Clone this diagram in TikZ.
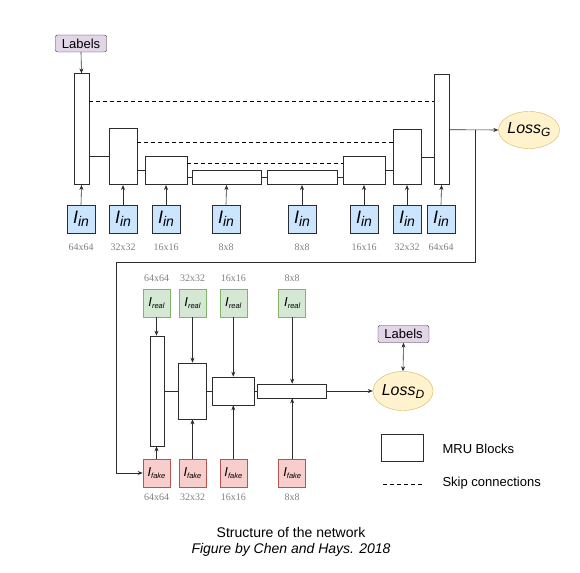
\documentclass[tikz,border=0pt]{standalone}
\usepackage{fontspec}
\setmainfont{Liberation Serif}
\setsansfont{Liberation Sans}
\usepackage{tikz}
\usetikzlibrary{arrows.meta, positioning, calc, shapes.geometric}

\definecolor{inblue}{HTML}{CCE5FF}
\definecolor{realgreen}{HTML}{D5E8D4}
\definecolor{realedge}{HTML}{82B366}
\definecolor{fakered}{HTML}{F8CECC}
\definecolor{fakeedge}{HTML}{B85450}
\definecolor{lblfill}{HTML}{E1D5E7}
\definecolor{lossfill}{HTML}{FFF2CC}
\definecolor{lossedge}{HTML}{D6B656}
\definecolor{edge}{HTML}{2A2C2F}

\newcommand{\Iin}{{\fontsize{18}{18}\selectfont\itshape I\raisebox{-3pt}{\fontsize{14}{14}\selectfont in}}}
\newcommand{\Ireal}{{\fontsize{13}{13}\selectfont\itshape I\raisebox{-2pt}{\fontsize{7.5}{7.5}\selectfont real}}}
\newcommand{\Ifake}{{\fontsize{13}{13}\selectfont\itshape I\raisebox{-2pt}{\fontsize{7.5}{7.5}\selectfont fake}}}

\begin{document}
\begin{tikzpicture}[
    x=1pt, y=-1pt,
    >={Stealth[length=5pt, width=4pt]},
    font=\sffamily,
    mru/.style={draw=edge, fill=white, semithick, inner sep=0pt, anchor=south},
    inbox/.style={draw=edge, fill=inblue, semithick, minimum width=28pt, minimum height=28pt, inner sep=0pt},
    realbox/.style={draw=realedge, fill=realgreen, semithick, minimum width=27pt, minimum height=28pt, inner sep=0pt},
    fakebox/.style={draw=fakeedge, fill=fakered, semithick, minimum width=27pt, minimum height=28pt, inner sep=0pt},
    lbl/.style={draw=edge, fill=lblfill, rounded corners=2pt, minimum width=51pt, minimum height=17pt, inner sep=0pt, font=\sffamily\fontsize{13}{13}\selectfont},
    loss/.style={ellipse, draw=lossedge, fill=lossfill, minimum width=54pt, minimum height=37pt, inner sep=0pt},
    dimtxt/.style={text=gray, font=\rmfamily\fontsize{10}{10}\selectfont},
    txt/.style={font=\sffamily\fontsize{13}{13}\selectfont},
    skip/.style={dashed, dash pattern=on 4pt off 3pt, thick},
    conn/.style={draw=edge, semithick},
    arr/.style={->, draw=edge, semithick}
]
\useasboundingbox (0,0) rectangle (580,572);

% generator
\node[lbl] (lblG) at (81,43.5) {Labels};

\node[mru, minimum width=15pt, minimum height=111pt] (g1) at (81.5,185) {};
\node[mru, minimum width=28pt, minimum height=56pt] (g2) at (123,185) {};
\node[mru, minimum width=42pt, minimum height=28pt] (g3) at (166,185) {};
\node[mru, minimum width=69pt, minimum height=14pt] (g4) at (226.5,185) {};
\node[mru, minimum width=70pt, minimum height=14pt] (g5) at (302,185) {};
\node[mru, minimum width=42pt, minimum height=28pt] (g6) at (364,185) {};
\node[mru, minimum width=28pt, minimum height=55pt] (g7) at (407,185) {};
\node[mru, minimum width=15pt, minimum height=110pt] (g8) at (441.5,185) {};

\foreach \i/\x/\s in {1/81/64x64, 2/123/32x32, 3/166/16x16, 4/226/8x8, 5/302/8x8, 6/364/16x16, 7/407/32x32, 8/441/64x64} {
    \node[inbox] (in\i) at (\x,219) {\Iin};
    \node[dimtxt] (sz\i) at (\x,247) {\s};
    \draw[arr] (in\i.north) -- (g\i.south);
}

\draw[arr] (lblG.south) -- (g1.north);

\draw[conn] (g2.west -| g1.east) -- (g2.west);
\draw[conn] (g3.west -| g2.east) -- (g3.west);
\draw[conn] (g4.west -| g3.east) -- (g4.west);
\draw[conn] (g4.east) -- (g5.west);
\draw[conn] (g5.east) -- (g6.west |- g5.east);
\draw[conn] (g6.east) -- (g7.west |- g6.east);
\draw[conn] (g7.east) -- (g8.west |- g7.east);

% skip connections, a quarter down from the block top
\coordinate (sk1) at ($(g1.north east)!.25!(g1.south east)$);
\coordinate (sk2) at ($(g2.north east)!.25!(g2.south east)$);
\coordinate (sk3) at ($(g3.north east)!.25!(g3.south east)$);
\draw[skip] (sk1) -- (sk1 -| g8.west);
\draw[skip] (sk2) -- (sk2 -| g7.west);
\draw[skip] (sk3) -- (sk3 -| g6.west);

\node[loss] (lossG) at (529,130) {\fontsize{16}{16}\selectfont\itshape Loss\raisebox{-3pt}{\fontsize{12}{12}\selectfont G}};
\draw[arr] (g8.east) -- (lossG.west);

% discriminator
\node[mru, minimum width=14pt, minimum height=110pt, anchor=center] (d1) at (157,391) {};
\node[mru, minimum width=28pt, minimum height=56pt, anchor=center] (d2) at (192,391) {};
\node[mru, minimum width=42pt, minimum height=28pt, anchor=center] (d3) at (233.5,391) {};
\node[mru, minimum width=69pt, minimum height=14pt, anchor=center] (d4) at (292,391) {};

\foreach \i/\x/\s in {1/156.5/64x64, 2/192.5/32x32, 3/233.3/16x16, 4/292.2/8x8} {
    \node[realbox] (r\i) at (\x,303) {\Ireal};
    \node[fakebox] (f\i) at (\x,473) {\Ifake};
    \node[dimtxt] (rs\i) at (\x,278) {\s};
    \node[dimtxt] (fs\i) at (\x,497.5) {\s};
    \draw[arr] (r\i.south) -- (r\i.south |- d\i.north);
    \draw[arr] (f\i.north) -- (f\i.north |- d\i.south);
}

\draw[conn] (d1.east) -- (d2.west);
\draw[conn] (d2.east) -- (d3.west);
\draw[conn] (d3.east) -- (d4.west);

\node[loss, minimum height=39pt] (lossD) at (403,391) {\fontsize{16}{16}\selectfont\itshape Loss\raisebox{-3pt}{\fontsize{12}{12}\selectfont D}};
\node[lbl] (lblD) at (403.5,334) {Labels};
\draw[arr] (d4.east) -- (lossD.west);
\draw[<->, draw=edge, semithick] (lblD.south) -- (lossD.north);

% fake images go back to D
\coordinate (br) at (475,130);
\coordinate (ret) at (116,262);
\draw[arr] (br) |- (ret) |- (f1.west);

% legend
\node[draw=edge, semithick, minimum width=42pt, minimum height=27pt, inner sep=0pt] (legbox) at (402.5,448) {};
\node[txt, anchor=west] (legmru) at (439,449) {MRU Blocks};
\coordinate (legA) at (383,484);
\coordinate (legB) at (422,484);
\draw[dashed, dash pattern=on 3.5pt off 3.5pt, semithick] (legA) -- (legB);
\node[txt, anchor=west] (legskip) at (439,483) {Skip connections};

% caption
\node[font=\sffamily\fontsize{14}{14}\selectfont] (cap1) at (291,532.5) {Structure of the network};
\node[font=\sffamily\fontsize{14}{14}\selectfont\itshape] (cap2) at (291,549.5) {Figure by Chen and Hays. 2018};

\end{tikzpicture}
\end{document}
